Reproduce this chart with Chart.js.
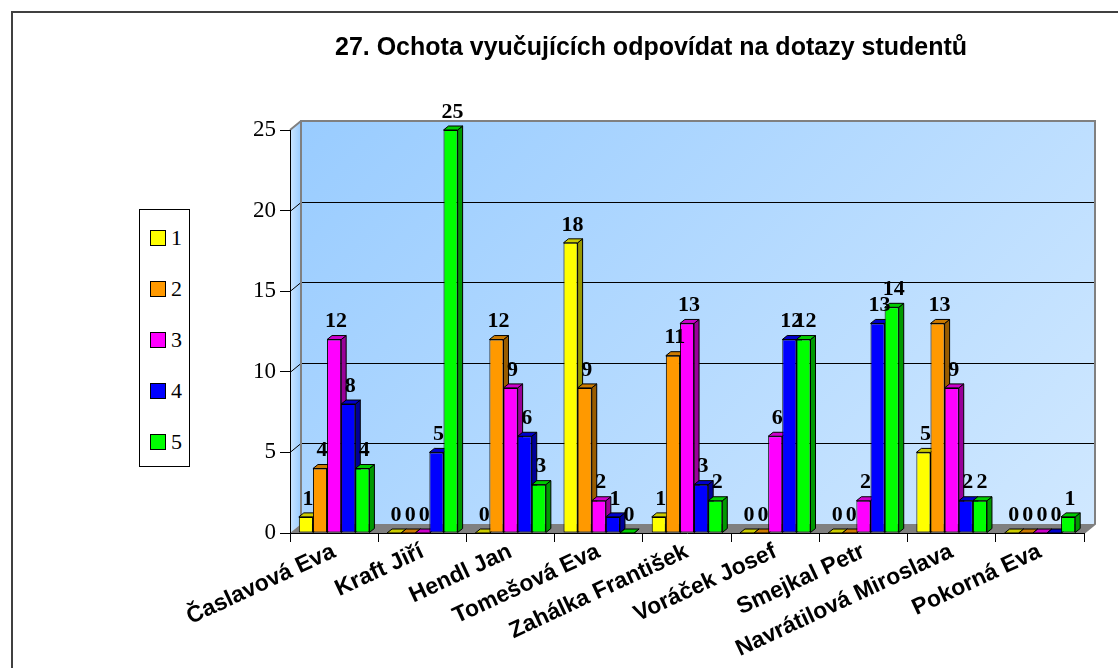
<!DOCTYPE html>
<html>
<head>
<meta charset="utf-8">
<script src="https://cdn.jsdelivr.net/npm/chart.js@4.4.1/dist/chart.umd.min.js"></script>
<style>
  body { margin: 0; background: #fff; }
  #wrap { position: relative; width: 1118px; height: 668px; }
  #legend {
    position: absolute; left: 139px; top: 209px; width: 49px; height: 256px;
    border: 1px solid #000; background: #fff;
    font-family: "Liberation Serif", "Times New Roman", serif; font-size: 22px;
  }
  .item { position: absolute; left: 10px; height: 24px; line-height: 24px; }
  .sw { display: inline-block; width: 14px; height: 14px; border: 1px solid #000; vertical-align: -1px; margin-right: 5px; }
</style>
</head>
<body>
<div id="wrap">
  <canvas id="chart" width="1118" height="668"></canvas>
  <div id="legend"></div>
</div>
<script>
// data
const teachers = [
  "Časlavová Eva", "Kraft Jiří", "Hendl Jan", "Tomešová Eva", "Zahálka František",
  "Voráček Josef", "Smejkal Petr", "Navrátilová Miroslava", "Pokorná Eva"
];
const seriesNames = ["1", "2", "3", "4", "5"];
const s1 = [1, 0, 0, 18, 1, 0, 0, 5, 0];
const s2 = [4, 0, 12, 9, 11, 0, 0, 13, 0];
const s3 = [12, 0, 9, 2, 13, 6, 2, 9, 0];
const s4 = [8, 5, 6, 1, 3, 12, 13, 2, 0];
const s5 = [4, 25, 3, 0, 2, 12, 14, 2, 1];
const yTicks = [0, 5, 10, 15, 20, 25];

const colors = ["#FFFF00", "#FF9900", "#FF00FF", "#0000FF", "#00FF00"];
const sideColors = ["#999900", "#995C00", "#990099", "#000099", "#009900"];
const topColors = ["#CCCC00", "#CC7A00", "#CC00CC", "#0000CC", "#00CC00"];

// 3D depth offsets
const DX = 11, DY = -9;   // walls
const BX = 5, BY = -4;    // bars

// legenda
const legend = document.getElementById("legend");
seriesNames.forEach((name, i) => {
  const it = document.createElement("div");
  it.className = "item";
  it.style.top = (16 + i * 51) + "px";
  it.innerHTML = `<span class="sw" style="background:${colors[i]}"></span>${name}`;
  legend.appendChild(it);
});

function poly(ctx, pts, fill, stroke, lw) {
  ctx.beginPath();
  ctx.moveTo(pts[0][0], pts[0][1]);
  for (let i = 1; i < pts.length; i++) ctx.lineTo(pts[i][0], pts[i][1]);
  ctx.closePath();
  if (fill) { ctx.fillStyle = fill; ctx.fill(); }
  if (stroke) { ctx.strokeStyle = stroke; ctx.lineWidth = lw || 1; ctx.stroke(); }
}

// walls, floor and gridlines
const wallsPlugin = {
  id: "walls",
  beforeDraw(chart) {
    const { ctx, chartArea: a, scales: { y } } = chart;
    ctx.save();
    ctx.strokeStyle = "#404040";
    ctx.lineWidth = 2;
    ctx.strokeRect(12, 12, 1200, 800);

    const g = ctx.createLinearGradient(a.left + DX, a.top + DY, a.left + 650, a.bottom + 200);
    g.addColorStop(0, "#99CCFF");
    g.addColorStop(1, "#D2E9FF");
    poly(ctx, [[a.left + DX, a.top + DY], [a.right + DX, a.top + DY], [a.right + DX, a.bottom + DY], [a.left + DX, a.bottom + DY]], g);

    const g2 = ctx.createLinearGradient(a.left, 0, a.left + DX, 0);
    g2.addColorStop(0, "#CCE6FF");
    g2.addColorStop(1, "#99CCFF");
    poly(ctx, [[a.left, a.top], [a.left + DX, a.top + DY], [a.left + DX, a.bottom + DY], [a.left, a.bottom]], g2);

    // podlaha
    poly(ctx, [[a.left, a.bottom], [a.left + DX, a.bottom + DY], [a.right + DX, a.bottom + DY], [a.right, a.bottom]], "#808080");

    ctx.lineWidth = 1;
    ctx.strokeStyle = "#000";
    yTicks.forEach((v) => {
      if (v === 0 || v === 25) return;
      const py = Math.round(y.getPixelForValue(v)) + 0.5;
      ctx.beginPath();
      ctx.moveTo(a.left, py);
      ctx.lineTo(a.left + DX, py + DY);
      ctx.lineTo(a.right + DX, py + DY);
      ctx.stroke();
    });

    ctx.strokeStyle = "#808080";
    ctx.lineWidth = 2;
    ctx.beginPath();
    ctx.moveTo(a.left + DX, a.bottom + DY);
    ctx.lineTo(a.left + DX, a.top + DY);
    ctx.lineTo(a.right + DX, a.top + DY);
    ctx.lineTo(a.right + DX, a.bottom + DY);
    ctx.lineTo(a.right, a.bottom);
    ctx.moveTo(a.left, a.top);
    ctx.lineTo(a.left + DX, a.top + DY);
    ctx.stroke();
    ctx.restore();
  },
  beforeDatasetsDraw(chart) {
    const ctx = chart.ctx;
    ctx.save();
    chart.data.datasets.forEach((ds, di) => {
      chart.getDatasetMeta(di).data.forEach((el) => {
        const l = el.x - el.width / 2, r = el.x + el.width / 2;
        const t = el.y, b = el.base;
        poly(ctx, [[r, t], [r + BX, t + BY], [r + BX, b + BY], [r, b]], sideColors[di], "#000", 1);
        poly(ctx, [[l, t], [l + BX, t + BY], [r + BX, t + BY], [r, t]], topColors[di], "#000", 1);
      });
    });
    ctx.restore();
  },
  afterDraw(chart) {
    const ctx = chart.ctx;
    ctx.save();
    ctx.font = "bold 22px 'Liberation Serif', 'Times New Roman', serif";
    ctx.fillStyle = "#000";
    ctx.textAlign = "center";
    ctx.textBaseline = "bottom";
    chart.data.datasets.forEach((ds, di) => {
      chart.getDatasetMeta(di).data.forEach((el, i) => {
        ctx.fillText(String(ds.data[i]), el.x + 2, el.y + BY - 3);
      });
    });
    ctx.restore();
  }
};

const seriesData = [s1, s2, s3, s4, s5];

var ctx = document.getElementById("chart").getContext("2d");
var chart = new Chart(ctx, {
  type: "bar",
  data: {
    labels: teachers,
    datasets: seriesNames.map((name, i) => ({
      label: name,
      data: seriesData[i],
      backgroundColor: colors[i],
      borderColor: "#000",
      borderWidth: 1,
      borderSkipped: false,
      categoryPercentage: 0.8,
      barPercentage: 1.0,
    })),
  },
  options: {
    responsive: false,
    animation: false,
    layout: { padding: { left: 218, right: 34, top: 0, bottom: 0 } },
    plugins: {
      legend: { display: false },
      tooltip: { enabled: false },
      title: {
        display: true,
        text: "27. Ochota vyučujících odpovídat na dotazy studentů",
        color: "#000",
        font: { family: "'Liberation Sans', Arial, sans-serif", size: 25, weight: "bold" },
        padding: { top: 33, bottom: 67 },
      },
    },
    scales: {
      x: {
        afterFit(scale) { scale.height = 135; },
        grid: { drawOnChartArea: false, drawTicks: true, tickLength: 9, color: "#000", offset: true },
        border: { display: true, color: "#000", width: 1 },
        ticks: {
          color: "#000",
          minRotation: 25,
          maxRotation: 25,
          padding: -4,
          labelOffset: 0,
          font: { family: "'Liberation Sans', Arial, sans-serif", size: 23, weight: "bold" },
        },
      },
      y: {
        min: 0,
        max: 25,
        afterFit(scale) { scale.width = 72; },
        afterBuildTicks(scale) { scale.ticks = yTicks.map((v) => ({ value: v })); },
        grid: { drawOnChartArea: false, drawTicks: true, tickLength: 10, color: "#000" },
        border: { display: true, color: "#000", width: 1 },
        ticks: {
          color: "#000",
          padding: 4,
          font: { family: "'Liberation Serif', 'Times New Roman', serif", size: 23 },
        },
      },
    },
  },
  plugins: [wallsPlugin],
});
</script>
</body>
</html>
